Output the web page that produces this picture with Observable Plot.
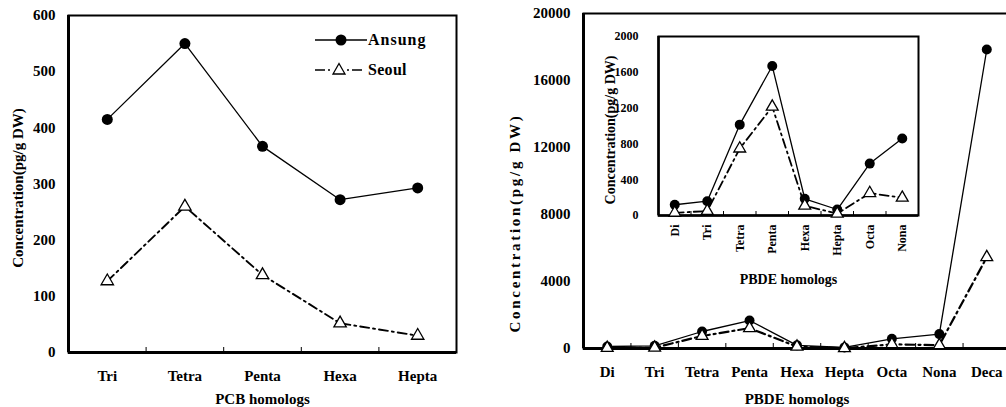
<!DOCTYPE html>
<html><head><meta charset="utf-8">
<script src="https://cdn.jsdelivr.net/npm/d3@7"></script>
<script src="https://cdn.jsdelivr.net/npm/@observablehq/plot@0.6"></script>
<style>
html,body{margin:0;padding:0;background:#fff;overflow:hidden}
#wrap{position:relative;width:1006px;height:407px;overflow:hidden;font-family:"Liberation Serif","Times New Roman",serif;font-weight:bold}
#wrap > *{position:absolute}
</style></head><body><div id="wrap"></div>
<script>
// ---- data ----
const pcbCats = ["Tri","Tetra","Penta","Hexa","Hepta"];
const pcbAnsung = [415,550,367,272,293];
const pcbSeoul = [127,260,138,52,30];
const pcbTicks = [0,100,200,300,400,500,600];

const pbdeCats = ["Di","Tri","Tetra","Penta","Hexa","Hepta","Octa","Nona","Deca"];
const pbdeAnsung = [120,160,1015,1670,187,67,580,860,17850];
const pbdeSeoul = [30,50,748,1215,110,20,250,198,5450];
const pbdeTicks = [0,4000,8000,12000,16000,20000];

const insetCats = pbdeCats.slice(0,8);
const insetAnsung = pbdeAnsung.slice(0,8);
const insetSeoul = pbdeSeoul.slice(0,8);
const insetTicks = [0,400,800,1200,1600,2000];

const yLabelText = "Concentration(pg/g DW)";
const seriesNames = ["Ansung","Seoul"];

const FONT = '"Liberation Serif","Times New Roman",serif';

function panel(o) {
  const n = o.cats.length;
  const rows = o.cats.map((c,i)=>({i, c, a:o.a[i], s:o.s[i]}));
  const fh = o.height - o.mt - o.mb;
  const svg = Plot.plot({
    width:o.width, height:o.height,
    marginLeft:o.ml, marginRight:o.mr, marginTop:o.mt, marginBottom:o.mb,
    style:{fontFamily:FONT, fontWeight:"bold", fontSize:o.fs+"px", color:"black", background:"white", overflow:"visible"},
    x:{domain:[-0.5,n-0.5], axis:null},
    y:{domain:[o.ticks[0], o.ticks[o.ticks.length-1]], axis:null},
    marks:[
      Plot.axisY({ticks:o.ticks, tickFormat:d=>String(d), tickSize:0, tickPadding:o.ypad, label:null, fontSize:o.yfs||o.fs}),
      Plot.axisX({ticks:d3.range(n), tickFormat:i=>o.cats[i], tickSize:0, tickPadding:o.xpad, tickRotate:o.rot||0, label:null}),
      Plot.tickX(d3.range(1,n), {x:d=>d-0.5, insetTop:fh-o.tl, stroke:"black", strokeWidth:1}),
      Plot.frame({stroke:"black", strokeWidth:o.fw}),
      Plot.ruleX([-0.5], {stroke:"black", strokeWidth:o.aw}),
      Plot.ruleY([o.ticks[0]], {stroke:"black", strokeWidth:o.aw}),
      Plot.line(rows, {x:"i", y:"s", stroke:"black", strokeWidth:o.sw, strokeDasharray:"9,4,2,4"}),
      Plot.line(rows, {x:"i", y:"a", stroke:"black", strokeWidth:1.3}),
      Plot.dot(rows, {x:"i", y:"a", r:o.cr, fill:"black"}),
      Plot.dot(rows, {x:"i", y:"s", symbol:"triangle", r:o.tr, fill:"white", stroke:"black", strokeWidth:1.3}),
      Plot.text([yLabelText], {text:d=>d, frameAnchor:"left", textAnchor:"middle", lineAnchor:"middle", rotate:-90, dx:o.ylx, dy:o.yly||0, fontSize:o.lfs, fontWeight:"bold"}),
      Plot.text([o.xLabel], {text:d=>d, frameAnchor:"bottom", textAnchor:"middle", lineAnchor:"middle", dy:o.xly, fontSize:o.xlfs||o.lfs, fontWeight:"bold"})
    ]
  });
  svg.style.left = o.left+"px";
  svg.style.top = o.top+"px";
  if (o.ls) d3.select(svg).selectAll("text").filter(function(){return this.textContent===yLabelText;}).style("letter-spacing", o.ls+"px");
  return svg;
}

const wrap = document.getElementById("wrap");

wrap.appendChild(panel({
  cats:pcbCats, a:pcbAnsung, s:pcbSeoul, ticks:pcbTicks,
  left:0, top:0, width:500, height:407, ml:68, mr:44, mt:15, mb:55,
  fs:15, ypad:13, xpad:18, tl:5, fw:2, aw:3, sw:1.9, cr:5.5, tr:4.6,
  ylx:-50, yly:4, lfs:15, xLabel:"PCB homologs", xly:47
}));

wrap.appendChild(panel({
  cats:pbdeCats, a:pbdeAnsung, s:pbdeSeoul, ticks:pbdeTicks,
  left:500, top:0, width:512, height:407, ml:83, mr:2, mt:13, mb:59,
  fs:15, ypad:13, xpad:18, tl:5, fw:2, aw:3, sw:2.2, cr:5, tr:4.4,
  ylx:-68, yly:42, lfs:15, ls:2.7, xLabel:"PBDE homologs", xly:51
}));

wrap.appendChild(panel({
  cats:insetCats, a:insetAnsung, s:insetSeoul, ticks:insetTicks,
  left:590, top:20, width:340, height:275, ml:68, mr:12, mt:16, mb:80,
  fs:12, ypad:20, xpad:9, rot:-90, tl:4, fw:2, aw:2.5, sw:1.8, cr:5, tr:4.4,
  ylx:-48, yly:4, lfs:14, xLabel:"PBDE homologs", xly:64, xlfs:14
}));

// legend (left panel)
const leg = d3.select(wrap).append("svg").attr("width",140).attr("height",60)
  .style("left","300px").style("top","25px").style("overflow","visible");
leg.append("line").attr("x1",15).attr("x2",67).attr("y1",15).attr("y2",15).attr("stroke","black").attr("stroke-width",1.3);
leg.append("circle").attr("cx",41).attr("cy",15).attr("r",5.5).attr("fill","black");
leg.append("path").attr("d","M15,45H25M28,45H30M47,45H49M52,45H62").attr("stroke","black").attr("stroke-width",1.5).attr("fill","none");
leg.append("path").attr("d","M39,38.5L45,49L33,49Z").attr("stroke","black").attr("stroke-width",1.3).attr("fill","white");
leg.selectAll("text.lg").data(seriesNames).join("text").attr("class","lg")
  .attr("x",68).attr("y",(d,i)=>20+i*30).text(d=>d)
  .style("font-family",FONT).style("font-weight","bold").style("font-size","16px")
  .style("letter-spacing",(d,i)=>i===0?"1px":"0.3px");
</script></body></html>
